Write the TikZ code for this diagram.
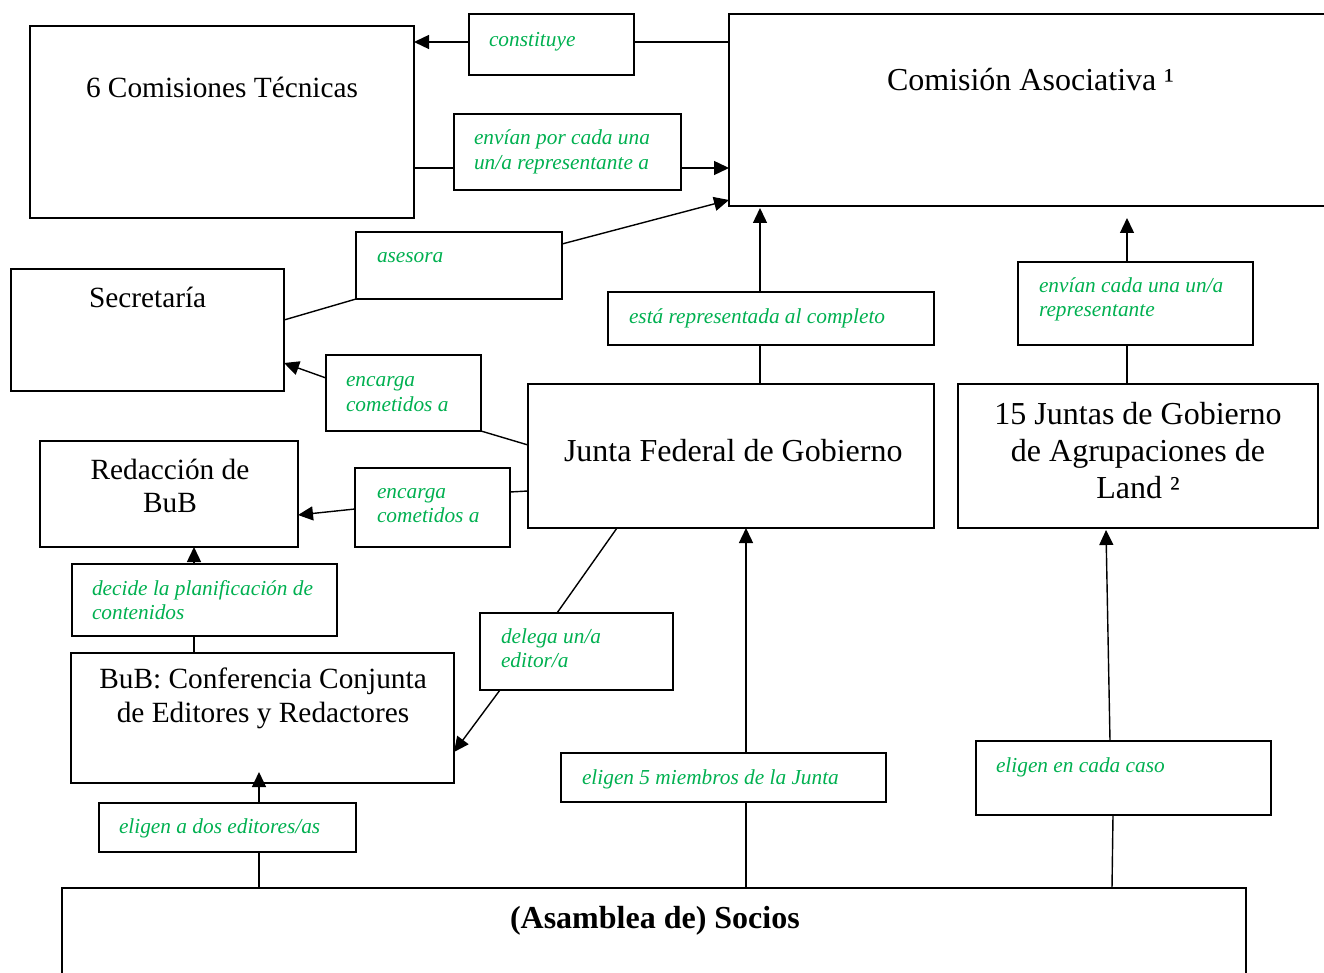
\documentclass[tikz,border=0pt]{standalone}
\usepackage{fontspec}
\setmainfont{Liberation Serif}
\usetikzlibrary{arrows.meta,calc}
\definecolor{lblgreen}{RGB}{0,176,80}
\newcommand{\mainsz}{\fontsize{32}{37}\selectfont}
\newcommand{\smallsz}{\fontsize{29.33}{33.5}\selectfont}
\newcommand{\lblsz}{\fontsize{21.33}{24.5}\selectfont\itshape}
\newcommand{\tstrut}{\rule{0pt}{0.8em}}
\begin{document}
\begin{tikzpicture}[x=1pt,y=-1pt,
  box/.style={draw=black, line width=1.7pt, rectangle, anchor=north west, inner sep=0pt, outer sep=0pt},
  lbl/.style={anchor=north west, inner sep=0pt, outer sep=0pt, align=left, font=\lblsz, text=lblgreen},
  ttl/.style={inner sep=0pt, outer sep=0pt, font=\mainsz, text=black},
  link/.style={draw=black, line width=1.4pt},
  arr/.style={link, -{Triangle[length=15pt,width=14pt]}},
]
\useasboundingbox (0,0) rectangle (1324,973);
\clip (0,0) rectangle (1324,973);

% boxes
\node[box, minimum width=384, minimum height=192] (ct) at (30,26) {};
\node[box, minimum width=165, minimum height=61] (con) at (469,14) {};
\node[box, minimum width=620, minimum height=192] (ca) at (729,14) {};
\node[box, minimum width=227, minimum height=76] (env) at (454,114) {};
\node[box, minimum width=206, minimum height=67] (ase) at (356,232) {};
\node[box, minimum width=273, minimum height=122] (sec) at (11,269) {};
\node[box, minimum width=155, minimum height=76] (enc1) at (326,355) {};
\node[box, minimum width=258, minimum height=106] (red) at (40,441) {};
\node[box, minimum width=155, minimum height=79] (enc2) at (355,468) {};
\node[box, minimum width=406, minimum height=144] (jf) at (528,384) {};
\node[box, minimum width=326, minimum height=53] (est) at (608,292) {};
\node[box, minimum width=360, minimum height=144] (j15) at (958,384) {};
\node[box, minimum width=235, minimum height=83] (envc) at (1018,262) {};
\node[box, minimum width=265, minimum height=72] (dec) at (72,564) {};
\node[box, minimum width=193, minimum height=77] (del) at (480,613) {};
\node[box, minimum width=383, minimum height=130] (bub) at (71,653) {};
\node[box, minimum width=257, minimum height=49] (el2) at (99,803) {};
\node[box, minimum width=325, minimum height=49] (el5) at (561,753) {};
\node[box, minimum width=295, minimum height=74] (elc) at (976,741) {};
\node[box, minimum width=1184, minimum height=120] (soc) at (62,888) {};

% connectors
\coordinate (pCon) at ($(con.west)+(0,-2.5)$);
\draw[link] (ca.west |- pCon) -- (con.east |- pCon);
\draw[arr] (pCon) -- (ct.east |- pCon);
\coordinate (pEnv) at ($(env.west)+(0,16)$);
\draw[link] (ct.east |- pEnv) -- (pEnv);
\draw[arr] (env.east |- pEnv) -- (ca.west |- pEnv);
\draw[link] ($(sec.east)+(0,-10)$) -- (ase.south west);
\draw[arr] ($(ase.north east)+(0,12)$) -- ($(ca.south west)+(0,-6)$);
\draw[arr] ($(enc1.west)+(0,-15)$) -- ($(sec.east)+(0,33)$);
\draw[link] (enc1.south east) -- ($(jf.west)+(0,-11)$);
\draw[link] ($(enc2.east)+(0,-15.5)$) -- ($(jf.west)+(0,35)$);
\draw[arr] ($(enc2.west)+(0,1.5)$) -- ($(red.east)+(0,21)$);
\coordinate (vJF) at ($(jf.north)+(29,0)$);
\draw[link] (vJF) -- (est.south -| vJF);
\draw[arr] (est.north -| vJF) -- ($(ca.south -| vJF)+(0,2)$);
\coordinate (vJ15) at ($(j15.north)+(-11,0)$);
\draw[link] (vJ15) -- (envc.south -| vJ15);
\draw[arr] (envc.north -| vJ15) -- ($(ca.south -| vJ15)+(0,12)$);
\coordinate (vRed) at ($(red.south)+(25,0)$);
\draw[link] (bub.north -| vRed) -- (dec.south -| vRed);
\draw[arr] (dec.north -| vRed) -- (vRed);
\draw[link] ($(jf.south west)+(89,0)$) -- ($(del.north)+(-19.5,0)$);
\draw[arr] ($(del.south west)+(20,0)$) -- ($(bub.east)+(0,34)$);
\coordinate (vBuB) at ($(bub.south)+(-3.5,0)$);
\draw[link] (soc.north -| vBuB) -- (el2.south -| vBuB);
\draw[arr] (el2.north -| vBuB) -- ($(vBuB)+(0,-11)$);
\coordinate (vEl5) at ($(jf.south)+(15,0)$);
\draw[link] (soc.north -| vEl5) -- (el5.south -| vEl5);
\draw[arr] (el5.north -| vEl5) -- (vEl5);
\draw[link] ($(soc.north west)+(1050,0)$) -- ($(elc.south west)+(137,0)$);
\draw[arr] ($(elc.north west)+(134,0)$) -- ($(j15.south west)+(148,2)$);

% main texts
\node[ttl, anchor=north west, font=\smallsz] (tCT) at (86,74.5) {\tstrut 6 Comisiones Técnicas};
\node[ttl, anchor=north west] (tCA) at (887,65.4) {\tstrut Comisión Asociativa ¹};
\node[ttl, anchor=north west, font=\smallsz] (tSec) at (89,284.5) {\tstrut Secretaría};
\node[ttl, anchor=north, align=center, font=\fontsize{29.33}{32.5}\selectfont] (tRed) at (170,456.5) {\tstrut Redacción de\\BuB};
\node[ttl, anchor=north west] (tJF) at (564,435.4) {\tstrut Junta Federal de Gobierno};
\node[ttl, anchor=north, align=center, font=\fontsize{32}{37}\selectfont] (tJ15) at (1138,398.4) {\tstrut 15 Juntas de Gobierno\\de Agrupaciones de\\Land ²};
\node[ttl, anchor=north, align=center, font=\fontsize{29.33}{34}\selectfont] (tBuB) at (263,665.5) {\tstrut BuB: Conferencia Conjunta\\de Editores y Redactores};
\node[ttl, anchor=north west, font=\fontsize{32}{37}\selectfont\bfseries] (tSoc) at (510,902.4) {\tstrut (Asamblea de) Socios};

% green labels
\node[lbl] (lCon) at (489,29) {\tstrut constituye};
\node[lbl] (lEnv) at (474,127.5) {\tstrut envían por cada una\\un/a representante a};
\node[lbl] (lAse) at (377,245) {\tstrut asesora};
\node[lbl] (lEnc1) at (346,369.7) {\tstrut encarga\\cometidos a};
\node[lbl] (lEnc2) at (377,481) {\tstrut encarga\\cometidos a};
\node[lbl] (lEst) at (629,306) {\tstrut está representada al completo};
\node[lbl] (lEnvc) at (1039,275) {\tstrut envían cada una un/a\\representante};
\node[lbl] (lDec) at (92,578) {\tstrut decide la planificación de\\contenidos};
\node[lbl] (lDel) at (501,626) {\tstrut delega un/a\\editor/a};
\node[lbl] (lEl2) at (119,816) {\tstrut eligen a dos editores/as};
\node[lbl] (lEl5) at (582,767) {\tstrut eligen 5 miembros de la Junta};
\node[lbl] (lElc) at (996,755) {\tstrut eligen en cada caso};
\end{tikzpicture}
\end{document}
